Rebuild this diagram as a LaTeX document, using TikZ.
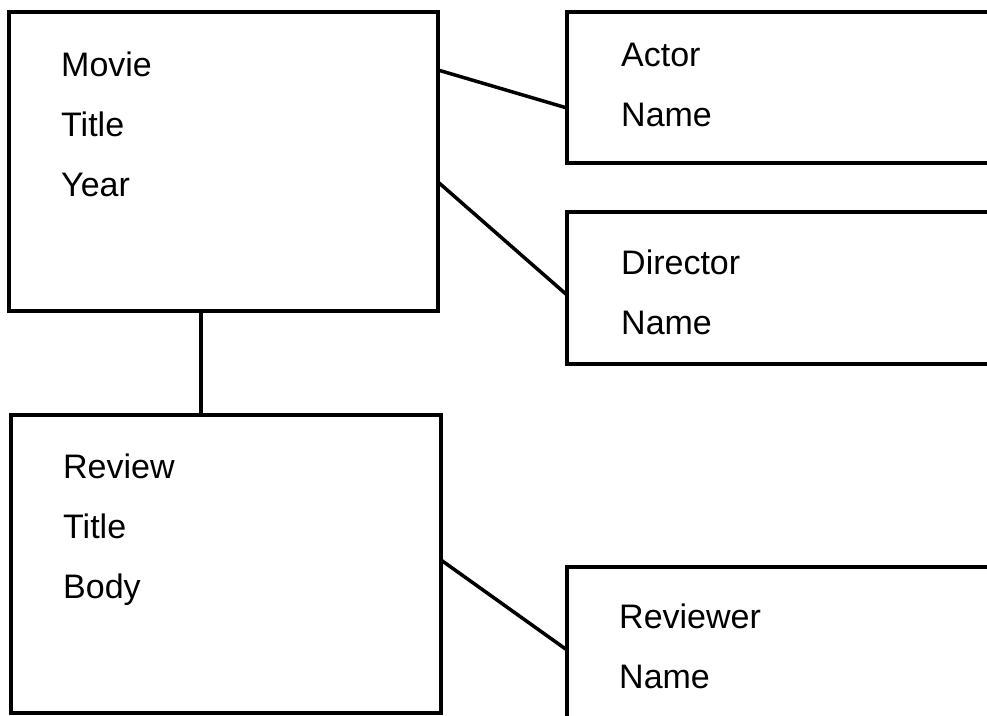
\documentclass[tikz,border=0pt]{standalone}
\usepackage{fontspec}
\setmainfont{Liberation Sans}
\begin{document}
\begin{tikzpicture}[x=1pt,y=-1pt,
  box/.style={draw=black,line width=3.5pt,rectangle,inner sep=0pt,outer sep=0pt,anchor=north west},
  lbl/.style={anchor=base west,inner sep=0pt,font=\fontsize{34}{40}\selectfont},
  link/.style={draw=black,line width=3.5pt}]
\useasboundingbox (0,0) rectangle (987,715);
\clip (0,0) rectangle (987,715);
\fill[white] (0,0) rectangle (987,715);
% boxes
\node[box,minimum width=429pt,minimum height=299pt] (movie) at (9,12) {};
\node[box,minimum width=460pt,minimum height=151pt] (actor) at (567,12) {};
\node[box,minimum width=460pt,minimum height=152pt] (director) at (567,212) {};
\node[box,minimum width=430pt,minimum height=298pt] (review) at (11,415) {};
\node[box,minimum width=460pt,minimum height=200pt] (reviewer) at (567,567) {};
% labels
\node[lbl] (t1) at (61,76) {Movie};
\node[lbl] (t2) at (61,136) {Title};
\node[lbl] (t3) at (61,196) {Year};
\node[lbl] (t4) at (621,66) {Actor};
\node[lbl] (t5) at (621,126) {Name};
\node[lbl] (t6) at (621,274) {Director};
\node[lbl] (t7) at (621,334) {Name};
\node[lbl] (t8) at (63,478) {Review};
\node[lbl] (t9) at (63,538) {Title};
\node[lbl] (t10) at (63,598) {Body};
\node[lbl] (t11) at (619,628) {Reviewer};
\node[lbl] (t12) at (619,688) {Name};
% connectors
\draw[link] ([yshift=-58pt]movie.north east) -- ([yshift=-96pt]actor.north west);
\draw[link] ([yshift=-170pt]movie.north east) -- ([yshift=-83pt]director.north west);
\draw[link] ([xshift=192pt]movie.south west) -- ([xshift=190pt]review.north west);
\draw[link] ([yshift=-145pt]review.north east) -- ([yshift=-83pt]reviewer.north west);
\end{tikzpicture}
\end{document}
